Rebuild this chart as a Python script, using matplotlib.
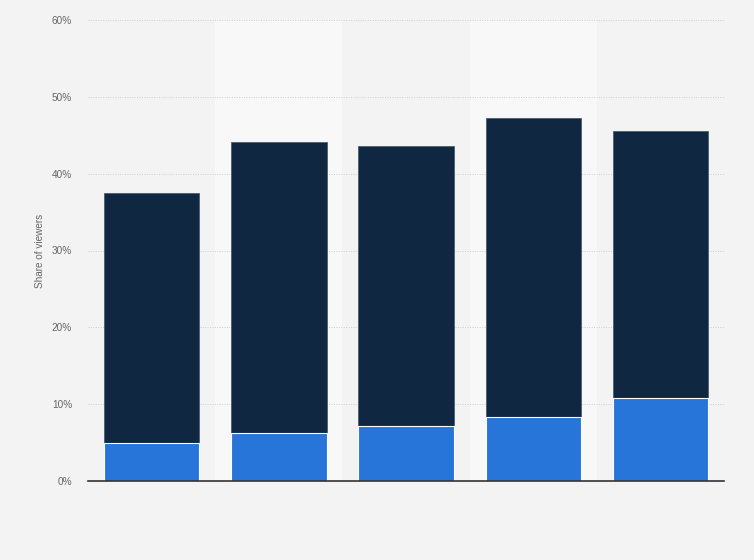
import matplotlib
matplotlib.use("Agg")
import matplotlib.pyplot as plt
import numpy as np
from matplotlib.ticker import FuncFormatter

# values in percent
CATEGORIES = ["1", "2", "3", "4", "5"]
LOWER_SHARE = [4.9, 6.2, 7.1, 8.3, 10.8]
TOTAL_SHARE = [37.5, 44.1, 43.6, 47.3, 45.5]
UPPER_SHARE = [t - l for t, l in zip(TOTAL_SHARE, LOWER_SHARE)]
Y_TICKS = [0, 10, 20, 30, 40, 50, 60]

BG = "#f3f3f3"
BAND = "#f8f8f8"
BLUE = "#2775d9"
NAVY = "#0f2740"


def main() -> None:
    plt.rcParams["font.family"] = ["Liberation Sans", "DejaVu Sans"]
    fig = plt.figure(figsize=(7.54, 5.6), dpi=100, facecolor=BG)
    ax = fig.add_axes([88 / 754, 79 / 560, 636 / 754, 461 / 560])
    ax.set_facecolor(BG)

    x = np.arange(len(CATEGORIES))
    for i in x:
        if i % 2 == 1:
            ax.axvspan(i - 0.5, i + 0.5, color=BAND, zorder=0, linewidth=0)

    ax.bar(x, UPPER_SHARE, bottom=LOWER_SHARE, width=0.75, color=NAVY,
           edgecolor="#4a5d70", linewidth=0.6, zorder=3)
    ax.bar(x, LOWER_SHARE, width=0.75, color=BLUE, edgecolor="white",
           linewidth=0.8, zorder=4)

    ax.set_xlim(-0.5, len(CATEGORIES) - 0.5)
    ax.set_ylim(0, 60)
    ax.set_yticks(Y_TICKS)
    ax.yaxis.set_major_formatter(FuncFormatter(lambda v, _: f"{v:.0f}%"))
    ax.set_xticks([])
    ax.tick_params(axis="y", length=0, labelsize=7.2, labelcolor="#666666", pad=11.5)
    ax.grid(axis="y", color="#cccccc", linestyle=(0, (1, 1.5)), linewidth=0.7, zorder=1)
    for side in ["top", "right", "left"]:
        ax.spines[side].set_visible(False)
    ax.spines["bottom"].set_color("#333333")
    ax.spines["bottom"].set_linewidth(1.2)
    ax.spines["bottom"].set_zorder(5)

    ax.set_ylabel("Share of viewers", fontsize=7.2, color="#666666", labelpad=5)

    fig.savefig("out.png", dpi=100, facecolor=BG)
    plt.close(fig)


if __name__ == "__main__":
    main()
